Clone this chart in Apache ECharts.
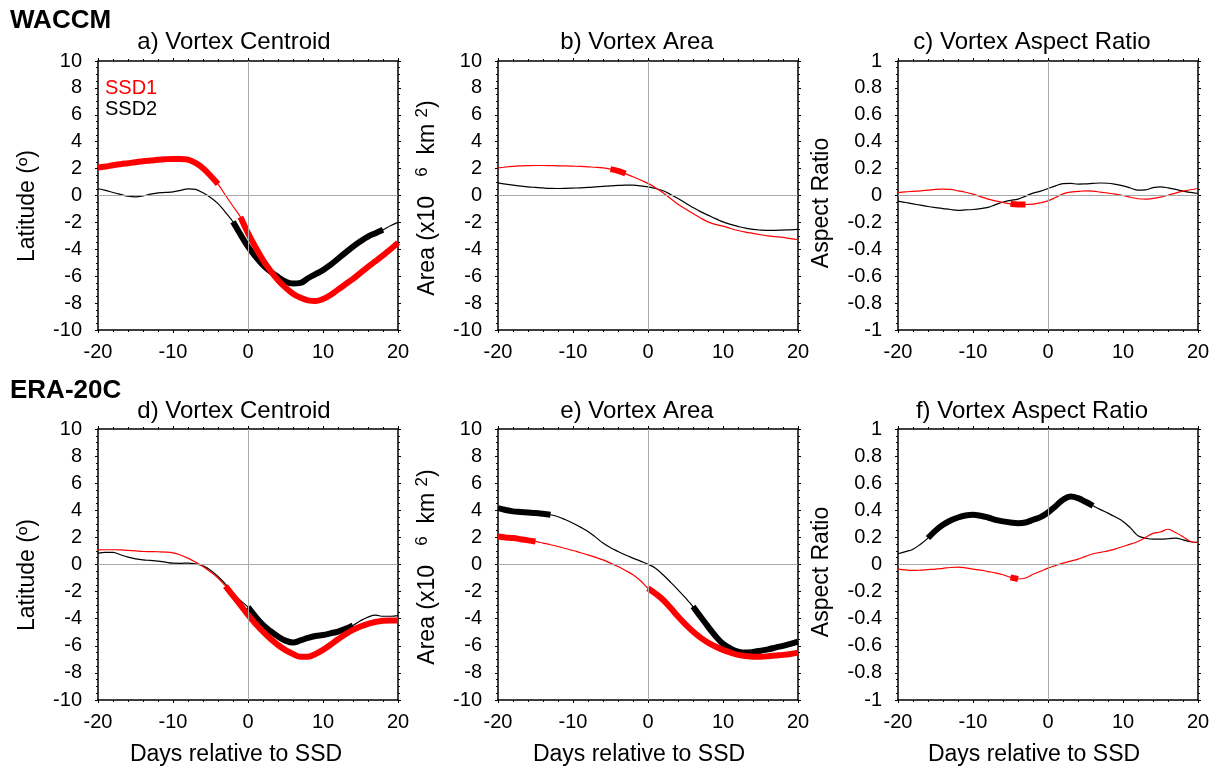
<!DOCTYPE html>
<html>
<head>
<meta charset="utf-8">
<script src="https://cdn.jsdelivr.net/npm/echarts@6/dist/echarts.min.js"></script>
<style>
  html, body { margin: 0; padding: 0; background: #fff; }
  #chart { width: 1215px; height: 771px; }
</style>
</head>
<body>
<div id="chart"></div>
<script>
// days relative to SSD
var days = [-20, -19, -18, -17, -16, -15, -14, -13, -12, -11, -10, -9, -8, -7, -6, -5, -4, -3, -2, -1,
  0, 1, 2, 3, 4, 5, 6, 7, 8, 9, 10, 11, 12, 13, 14, 15, 16, 17, 18, 19, 20];

// WACCM
var aRed = [2.08, 2.15, 2.25, 2.33, 2.4, 2.47, 2.55, 2.6, 2.66, 2.7, 2.72, 2.72, 2.66, 2.42, 2.02, 1.47, 0.85, 0.02, -0.8, -1.6,
  -2.8, -3.85, -4.8, -5.6, -6.3, -6.85, -7.3, -7.6, -7.8, -7.85, -7.7, -7.4, -7.0, -6.6, -6.2, -5.75, -5.3, -4.88, -4.45, -4.0, -3.5];
var aBlack = [0.5, 0.38, 0.22, 0.08, -0.05, -0.1, -0.03, 0.1, 0.2, 0.23, 0.27, 0.38, 0.5, 0.45, 0.2, -0.15, -0.6, -1.25, -1.95, -2.9,
  -3.8, -4.55, -5.17, -5.65, -6.05, -6.4, -6.55, -6.5, -6.15, -5.85, -5.55, -5.15, -4.7, -4.25, -3.8, -3.4, -3.05, -2.8, -2.55, -2.25, -2.0];
var bRed = [2.05, 2.12, 2.17, 2.2, 2.22, 2.23, 2.23, 2.22, 2.21, 2.2, 2.18, 2.16, 2.13, 2.1, 2.05, 1.96, 1.83, 1.63, 1.39, 1.15,
  0.9, 0.57, 0.2, -0.22, -0.65, -1.0, -1.34, -1.67, -1.96, -2.15, -2.28, -2.45, -2.6, -2.72, -2.82, -2.92, -3.0, -3.06, -3.12, -3.2, -3.27];
var bBlack = [0.94, 0.85, 0.77, 0.7, 0.64, 0.6, 0.56, 0.53, 0.52, 0.53, 0.55, 0.57, 0.6, 0.64, 0.68, 0.72, 0.75, 0.77, 0.77, 0.72,
  0.64, 0.52, 0.35, 0.08, -0.22, -0.55, -0.89, -1.2, -1.46, -1.72, -1.96, -2.15, -2.3, -2.43, -2.52, -2.57, -2.6, -2.59, -2.57, -2.55, -2.52];
var cRed = [0.022, 0.027, 0.031, 0.035, 0.04, 0.045, 0.047, 0.045, 0.035, 0.024, 0.01, -0.008, -0.027, -0.04, -0.052, -0.062, -0.067, -0.067, -0.064, -0.054,
  -0.04, -0.015, 0.012, 0.025, 0.03, 0.034, 0.032, 0.025, 0.018, 0.01, 0.0, -0.013, -0.024, -0.027, -0.022, -0.012, 0.002, 0.018, 0.032, 0.043, 0.052];
var cBlack = [-0.042, -0.052, -0.062, -0.072, -0.082, -0.09, -0.097, -0.104, -0.11, -0.107, -0.104, -0.098, -0.088, -0.068, -0.048, -0.036, -0.027, -0.005, 0.018, 0.032,
  0.052, 0.072, 0.088, 0.09, 0.085, 0.086, 0.09, 0.093, 0.091, 0.083, 0.072, 0.056, 0.04, 0.042, 0.058, 0.064, 0.057, 0.045, 0.032, 0.023, 0.015];

// ERA-20C
var dRed = [1.08, 1.09, 1.09, 1.08, 1.04, 1.0, 0.96, 0.95, 0.94, 0.92, 0.86, 0.7, 0.47, 0.18, -0.15, -0.55, -1.0, -1.6, -2.3, -3.0,
  -3.72, -4.37, -4.95, -5.48, -5.94, -6.32, -6.6, -6.8, -6.8, -6.6, -6.3, -5.92, -5.52, -5.15, -4.83, -4.58, -4.38, -4.24, -4.15, -4.13, -4.13];
var dBlack = [0.84, 0.9, 0.89, 0.72, 0.54, 0.42, 0.34, 0.3, 0.25, 0.17, 0.1, 0.09, 0.1, 0.04, -0.1, -0.42, -0.89, -1.45, -2.12, -2.65,
  -3.15, -3.85, -4.46, -4.92, -5.32, -5.62, -5.76, -5.6, -5.42, -5.28, -5.2, -5.08, -4.95, -4.75, -4.5, -4.15, -3.88, -3.74, -3.82, -3.82, -3.77];
var eRed = [2.07, 2.0, 1.95, 1.87, 1.78, 1.7, 1.58, 1.46, 1.33, 1.18, 1.03, 0.87, 0.71, 0.53, 0.34, 0.1, -0.15, -0.44, -0.76, -1.2,
  -1.75, -2.15, -2.6, -3.2, -3.84, -4.42, -4.95, -5.4, -5.76, -6.05, -6.3, -6.5, -6.67, -6.75, -6.8, -6.8, -6.77, -6.72, -6.67, -6.6, -6.5];
var eBlack = [4.16, 4.02, 3.92, 3.88, 3.84, 3.8, 3.74, 3.67, 3.52, 3.3, 3.05, 2.76, 2.44, 2.02, 1.58, 1.24, 0.96, 0.7, 0.47, 0.25,
  0.02, -0.27, -0.76, -1.3, -1.87, -2.47, -3.1, -3.85, -4.58, -5.28, -5.86, -6.2, -6.43, -6.5, -6.45, -6.36, -6.26, -6.13, -6.0, -5.85, -5.69];
var fRed = [-0.034, -0.04, -0.044, -0.042, -0.038, -0.034, -0.028, -0.022, -0.02, -0.025, -0.034, -0.042, -0.052, -0.062, -0.076, -0.095, -0.107, -0.1, -0.072, -0.05,
  -0.027, -0.008, 0.01, 0.025, 0.04, 0.06, 0.079, 0.09, 0.1, 0.115, 0.133, 0.15, 0.17, 0.2, 0.23, 0.24, 0.26, 0.236, 0.205, 0.17, 0.163];
var fBlack = [0.079, 0.095, 0.113, 0.15, 0.195, 0.25, 0.293, 0.325, 0.347, 0.362, 0.367, 0.36, 0.347, 0.33, 0.318, 0.31, 0.305, 0.31, 0.33, 0.35,
  0.384, 0.43, 0.478, 0.502, 0.49, 0.463, 0.433, 0.405, 0.379, 0.35, 0.318, 0.27, 0.212, 0.195, 0.187, 0.187, 0.19, 0.195, 0.182, 0.168, 0.163];

// day ranges drawn thick (significant)
var aRedThick = [[-20, -4], [-1, 20]];
var aBlackThick = [[-2, 18]];
var bRedThick = [[-5, -3]];
var bBlackThick = [];
var cRedThick = [[-5, -3]];
var cBlackThick = [];
var dRedThick = [[-3, 20]];
var dBlackThick = [[0, 14]];
var eRedThick = [[-20, -15], [0, 20]];
var eBlackThick = [[-20, -13], [6, 20]];
var fRedThick = [[-5, -4]];
var fBlackThick = [[-16, 6]];

var titles = ["a) Vortex Centroid", "b) Vortex Area", "c) Vortex Aspect Ratio",
  "d) Vortex Centroid", "e) Vortex Area", "f) Vortex Aspect Ratio"];

var panels = [
  { red: aRed, black: aBlack, redThick: aRedThick, blackThick: aBlackThick, kind: "lat" },
  { red: bRed, black: bBlack, redThick: bRedThick, blackThick: bBlackThick, kind: "area" },
  { red: cRed, black: cBlack, redThick: cRedThick, blackThick: cBlackThick, kind: "ratio" },
  { red: dRed, black: dBlack, redThick: dRedThick, blackThick: dBlackThick, kind: "lat" },
  { red: eRed, black: eBlack, redThick: eRedThick, blackThick: eBlackThick, kind: "area" },
  { red: fRed, black: fBlack, redThick: fRedThick, blackThick: fBlackThick, kind: "ratio" }
];

var FONT = '"Liberation Sans", Arial, sans-serif';
var colLeft = [98, 498, 898];
var rowTop = [61, 429];
var rowHeight = [269, 271];
var titleX = [234, 637, 1032];
var titleY = [42, 411];
var ylabX = [28, 428, 822];
var ylabY = { lat: [206, 575], area: [198, 567], ratio: [203, 572] };

function pairs(vals, range) {
  var out = [];
  for (var i = 0; i < days.length; i++) {
    if (!range || (days[i] >= range[0] && days[i] <= range[1])) out.push([days[i], vals[i]]);
  }
  return out;
}

var grids = [], xAxes = [], yAxes = [], series = [], graphics = [];

panels.forEach(function (p, k) {
  var col = k % 3, row = Math.floor(k / 3);
  grids.push({ left: colLeft[col], top: rowTop[row], width: 300, height: rowHeight[row] });
  var ratio = p.kind === "ratio";
  var ymin = ratio ? -1 : -10, ymax = ratio ? 1 : 10, step = ratio ? 0.2 : 2;
  var axLine = { show: true, onZero: false, lineStyle: { color: "#000", width: 1.5 } };
  var tick = { show: true, inside: false, length: 3, lineStyle: { color: "#000", width: 1 } };
  var minor = function (n) { return { show: true, splitNumber: n, length: 2, lineStyle: { color: "#000" } }; };
  var labelStyle = { color: "#000", fontSize: 20, fontFamily: FONT };

  xAxes.push({
    type: "value", gridIndex: k, min: -20, max: 20, interval: 10, position: "bottom",
    axisLine: axLine, axisTick: tick, minorTick: minor(5),
    axisLabel: Object.assign({ margin: 12 }, labelStyle),
    splitLine: { show: false }
  });
  xAxes.push({
    type: "value", gridIndex: k, min: -20, max: 20, interval: 10, position: "top",
    axisLine: axLine, axisTick: tick, minorTick: minor(5),
    axisLabel: { show: false }, splitLine: { show: false }
  });
  yAxes.push({
    type: "value", gridIndex: k, min: ymin, max: ymax, interval: step, position: "left",
    axisLine: axLine, axisTick: tick, minorTick: minor(4),
    axisLabel: Object.assign({ margin: 16 }, labelStyle),
    splitLine: { show: false }
  });
  yAxes.push({
    type: "value", gridIndex: k, min: ymin, max: ymax, interval: step, position: "right",
    axisLine: axLine, axisTick: tick, minorTick: minor(4),
    axisLabel: { show: false }, splitLine: { show: false }
  });

  var xi = 2 * k, yi = 2 * k;
  // zero reference lines
  series.push({
    type: "line", xAxisIndex: xi, yAxisIndex: yi, data: [[-20, 0]], showSymbol: false, silent: true,
    lineStyle: { width: 0 }, z: 1,
    markLine: {
      silent: true, symbol: "none", label: { show: false },
      lineStyle: { color: "#aaaaaa", width: 1, type: "solid" },
      data: [{ xAxis: 0 }, { yAxis: 0 }]
    }
  });
  [["black", "#000000"], ["red", "#ff0000"]].forEach(function (c) {
    var vals = p[c[0]];
    series.push({
      type: "line", xAxisIndex: xi, yAxisIndex: yi, data: pairs(vals), smooth: 0.4,
      showSymbol: false, silent: true, z: 3, lineStyle: { color: c[1], width: 1.2 }
    });
    p[c[0] + "Thick"].forEach(function (r) {
      series.push({
        type: "line", xAxisIndex: xi, yAxisIndex: yi, data: pairs(vals, r), smooth: 0.4,
        showSymbol: false, silent: true, z: 3, lineStyle: { color: c[1], width: 6, cap: "butt" }
      });
    });
  });

  graphics.push({
    type: "text", x: titleX[col], y: titleY[row],
    style: { text: titles[k], font: "24px " + FONT, fill: "#000", align: "center", verticalAlign: "middle",
      textAlign: "center", textVerticalAlign: "middle" }
  });

  var ylab;
  if (p.kind === "area") {
    ylab = {
      text: "{n|Area (x10   }{s|6}{n|  km }{s|2}{n|)}",
      rich: {
        n: { fontSize: 23, fontFamily: FONT, fill: "#000", lineHeight: 28 },
        s: { fontSize: 17, fontFamily: FONT, fill: "#000", lineHeight: 28, verticalAlign: "top" }
      }
    };
  } else {
    ylab = { text: p.kind === "lat" ? "Latitude (\u00ba)" : "Aspect Ratio", font: "23px " + FONT };
  }
  graphics.push({
    type: "text", x: ylabX[col], y: ylabY[p.kind][row], rotation: Math.PI / 2,
    style: Object.assign({ fill: "#000", align: "center", verticalAlign: "middle",
      textAlign: "center", textVerticalAlign: "middle" }, ylab)
  });

  if (row === 1) {
    graphics.push({
      type: "text", x: titleX[col] + 2, y: 755,
      style: { text: "Days relative to SSD", font: "23px " + FONT, fill: "#000", align: "center", verticalAlign: "middle",
        textAlign: "center", textVerticalAlign: "middle" }
    });
  }
});

graphics.push(
  { type: "text", x: 10, y: 21, style: { text: "WACCM", font: "bold 26px " + FONT, fill: "#000", verticalAlign: "middle", textVerticalAlign: "middle" } },
  { type: "text", x: 10, y: 391, style: { text: "ERA-20C", font: "bold 26px " + FONT, fill: "#000", verticalAlign: "middle", textVerticalAlign: "middle" } },
  { type: "text", x: 105, y: 88, style: { text: "SSD1", font: "20px " + FONT, fill: "#ff0000", verticalAlign: "middle", textVerticalAlign: "middle" } },
  { type: "text", x: 105, y: 109, style: { text: "SSD2", font: "20px " + FONT, fill: "#000", verticalAlign: "middle", textVerticalAlign: "middle" } }
);

var myChart = echarts.init(document.getElementById("chart"));
myChart.setOption({
  animation: false,
  backgroundColor: "#fff",
  grid: grids,
  xAxis: xAxes,
  yAxis: yAxes,
  series: series,
  graphic: graphics
});
</script>
</body>
</html>
